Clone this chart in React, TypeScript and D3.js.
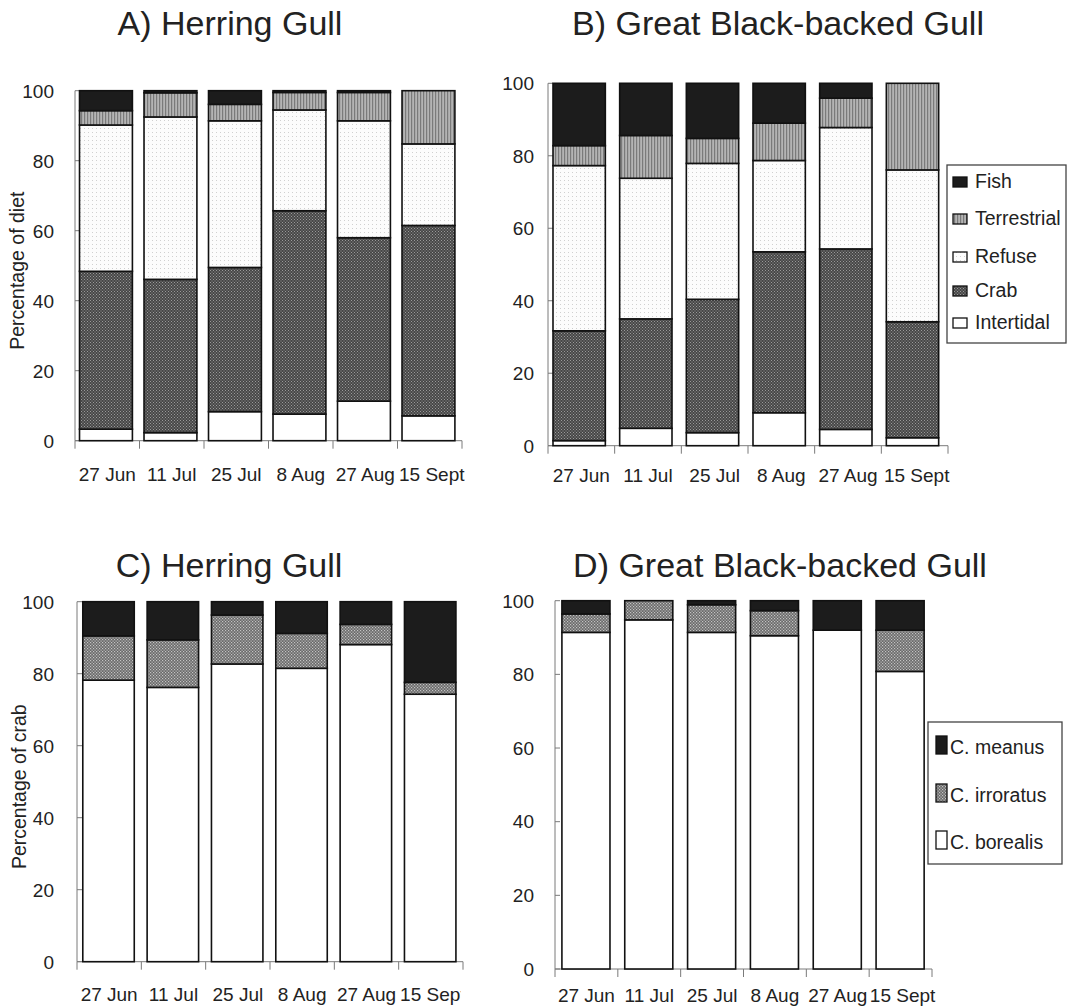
import React from 'react';
import * as d3 from 'd3';

// ---------- data ----------
const dates = ['27 Jun', '11 Jul', '25 Jul', '8 Aug', '27 Aug', '15 Sept'];
const yTicks = [0, 20, 40, 60, 80, 100];

const dietKeys = ['Intertidal', 'Crab', 'Refuse', 'Terrestrial', 'Fish'];
const crabKeys = ['C. borealis', 'C. irroratus', 'C. meanus'];

// A) Herring Gull – percentage of diet (bottom to top)
const hgIntertidal = [3.3, 2.3, 8.3, 7.6, 11.3, 7.1];
const hgCrab = [45.1, 43.8, 41.2, 58.1, 46.7, 54.4];
const hgRefuse = [41.8, 46.4, 41.9, 28.8, 33.4, 23.3];
const hgTerrestrial = [4.1, 6.9, 4.7, 5.0, 8.1, 15.2];
const hgFish = [5.7, 0.6, 3.9, 0.5, 0.5, 0];

// B) Great Black-backed Gull – percentage of diet
const gbIntertidal = [1.4, 4.8, 3.6, 9.1, 4.5, 2.2];
const gbCrab = [30.3, 30.2, 36.8, 44.4, 49.8, 32.0];
const gbRefuse = [45.6, 38.8, 37.5, 25.2, 33.5, 41.9];
const gbTerrestrial = [5.5, 11.8, 6.9, 10.3, 8.1, 23.9];
const gbFish = [17.2, 14.4, 15.2, 11.0, 4.1, 0];

// C) Herring Gull – percentage of crab
const hgBorealis = [78.2, 76.2, 82.7, 81.5, 88.1, 74.3];
const hgIrroratus = [12.3, 13.2, 13.6, 9.7, 5.6, 3.3];
const hgMeanus = [9.5, 10.6, 3.7, 8.8, 6.3, 22.4];

// D) Great Black-backed Gull – percentage of crab
const gbBorealis = [91.4, 94.8, 91.4, 90.5, 92.0, 80.8];
const gbIrroratus = [5.0, 5.2, 7.5, 6.8, 0, 11.2];
const gbMeanus = [3.6, 0, 1.1, 2.7, 8.0, 8.0];

// ---------- styling ----------
const FONT = '"Liberation Sans", Arial, Helvetica, sans-serif';
const TXT = '#222';
const AXIS = '#7a7a7a';

const dietFills: Record<string, string> = {
  Intertidal: '#ffffff',
  Crab: 'url(#pCrab)',
  Refuse: 'url(#pRefuse)',
  Terrestrial: 'url(#pTerr)',
  Fish: '#1c1c1c',
};
const crabFills: Record<string, string> = {
  'C. borealis': '#ffffff',
  'C. irroratus': 'url(#pIrror)',
  'C. meanus': '#1c1c1c',
};

type PanelProps = {
  keys: string[];
  series: number[][];
  fills: Record<string, string>;
  x0: number; x1: number; yTop: number; yBot: number;
  barOff: number; barW: number;
  yLabelX: number; xLabelY: number;
  yTitle?: string; yTitleX?: number;
  clipRight?: number; id: string;
};

function Panel(p: PanelProps) {
  const rows = dates.map((d, i) => {
    const r: any = { date: d };
    p.keys.forEach((k, j) => (r[k] = p.series[j][i]));
    return r;
  });
  const stacked = d3.stack<any>().keys(p.keys)(rows);
  const x = d3.scaleBand<string>().domain(dates).range([p.x0, p.x1]).padding(0);
  const y = d3.scaleLinear().domain([0, 100]).range([p.yBot, p.yTop]);
  const step = x.step();
  const boundaries = d3.range(dates.length + 1).map((i) => p.x0 + i * step);
  const midY = (p.yTop + p.yBot) / 2;
  return (
    <g>
      {p.clipRight !== undefined && (
        <clipPath id={`clip-${p.id}`}>
          <rect x={0} y={p.yBot} width={p.clipRight} height={80} />
        </clipPath>
      )}
      {/* y axis */}
      <line x1={p.x0} x2={p.x0} y1={p.yTop} y2={p.yBot} stroke={AXIS} strokeWidth={1} />
      {yTicks.map((t) => (
        <g key={t}>
          <line x1={p.x0} x2={p.x0 + 5} y1={y(t)} y2={y(t)} stroke={AXIS} strokeWidth={1} />
          <text x={p.yLabelX} y={y(t) + 6.8} textAnchor="end" fontSize={19} fill={TXT} fontFamily={FONT}>
            {t}
          </text>
        </g>
      ))}
      {/* x axis */}
      <line x1={p.x0} x2={p.x1} y1={p.yBot} y2={p.yBot} stroke={AXIS} strokeWidth={1} />
      {boundaries.map((bx, i) => (
        <line key={i} x1={bx} x2={bx} y1={p.yBot} y2={p.yBot + 8} stroke={AXIS} strokeWidth={1} />
      ))}
      <g clipPath={p.clipRight !== undefined ? `url(#clip-${p.id})` : undefined}>
        {dates.map((d, i) => (
          <text key={d} x={(x(d) as number) + step / 2 + (i === dates.length - 1 ? 2 : 0)} y={p.xLabelY}
            textAnchor="middle" fontSize={19} fill={TXT} fontFamily={FONT}>
            {d}
          </text>
        ))}
      </g>
      {/* bars */}
      {stacked.map((s) => (
        <g key={s.key}>
          {s.map((seg, i) => {
            const h = y(seg[0]) - y(seg[1]);
            if (h <= 0.01) return null;
            return (
              <rect key={i}
                x={(x(dates[i]) as number) + step * p.barOff}
                width={step * p.barW}
                y={y(seg[1])}
                height={h}
                fill={p.fills[s.key]}
                stroke="#111" strokeWidth={1.6} />
            );
          })}
        </g>
      ))}
      {p.yTitle && (
        <text transform={`translate(${p.yTitleX},${midY + 5}) rotate(-90)`} textAnchor="middle"
          fontSize={19.5} fill={TXT} fontFamily={FONT}>
          {p.yTitle}
        </text>
      )}
    </g>
  );
}

function Legend({ items, fills, x, y, w, h, rows, tall }: {
  items: string[]; fills: Record<string, string>; x: number; y: number; w: number; h: number;
  rows: number[]; tall?: boolean;
}) {
  return (
    <g>
      <rect x={x} y={y} width={w} height={h} fill="#fff" stroke="#444" strokeWidth={1.3} />
      {items.map((it, i) => (
        <g key={it}>
          {tall ? (
            <rect x={x + 8} y={rows[i] - 18} width={11} height={18} fill={fills[it]} stroke="#111" strokeWidth={1.3} />
          ) : (
            <rect x={x + 6} y={rows[i] - 11} width={14} height={10} fill={fills[it]} stroke="#111" strokeWidth={1.3} />
          )}
          <text x={tall ? x + 22 : x + 28} y={rows[i]} fontSize={19.5} fill={TXT} fontFamily={FONT}>
            {it}
          </text>
        </g>
      ))}
    </g>
  );
}

export default function App() {
  const W = 1073, H = 1008;
  const dietLegendItems = [...dietKeys].reverse();
  const crabLegendItems = [...crabKeys].reverse();
  return (
    <div style={{ position: 'absolute', left: 0, top: 0 }}>
      <svg width={W} height={H} viewBox={`0 0 ${W} ${H}`} style={{ display: 'block', background: '#fff' }}>
        <defs>
          <pattern id="pCrab" width={3} height={3} patternUnits="userSpaceOnUse">
            <rect width={3} height={3} fill="#474747" />
            <rect x={0} y={0} width={1} height={1} fill="#9a9a9a" />
            <rect x={1.5} y={1.5} width={1} height={1} fill="#9a9a9a" />
          </pattern>
          <pattern id="pIrror" width={3} height={3} patternUnits="userSpaceOnUse">
            <rect width={3} height={3} fill="#6a6a6a" />
            <rect x={0} y={0} width={1.2} height={1.2} fill="#c4c4c4" />
            <rect x={1.5} y={1.5} width={1.2} height={1.2} fill="#c4c4c4" />
          </pattern>
          <pattern id="pTerr" width={3} height={4} patternUnits="userSpaceOnUse">
            <rect width={3} height={4} fill="#b4b4b4" />
            <rect x={0} y={0} width={1.2} height={4} fill="#7a7a7a" />
          </pattern>
          <pattern id="pRefuse" width={4} height={4} patternUnits="userSpaceOnUse">
            <rect width={4} height={4} fill="#fcfcfc" />
            <rect x={0} y={0} width={1} height={1} fill="#d0d0d0" />
          </pattern>
        </defs>

        {/* Titles */}
        <text x={230} y={35} textAnchor="middle" fontSize={34} fill={TXT} fontFamily={FONT}>A) Herring Gull</text>
        <text x={778} y={35} textAnchor="middle" fontSize={34} fill={TXT} fontFamily={FONT}>B) Great Black-backed Gull</text>
        <text x={229} y={577} textAnchor="middle" fontSize={34} fill={TXT} fontFamily={FONT}>C) Herring Gull</text>
        <text x={780} y={577} textAnchor="middle" fontSize={34} fill={TXT} fontFamily={FONT}>D) Great Black-backed Gull</text>

        <Panel id="A" keys={dietKeys} series={[hgIntertidal, hgCrab, hgRefuse, hgTerrestrial, hgFish]}
          fills={dietFills} x0={75} x1={462} yTop={90.7} yBot={440.7} barOff={0.07} barW={0.82}
          yLabelX={54} xLabelY={481} yTitle="Percentage of diet" yTitleX={24} />
        <Panel id="B" keys={dietKeys} series={[gbIntertidal, gbCrab, gbRefuse, gbTerrestrial, gbFish]}
          fills={dietFills} x0={548} x1={948} yTop={83.3} yBot={445.7} barOff={0.075} barW={0.785}
          yLabelX={534} xLabelY={482} />
        <Panel id="C" keys={crabKeys} series={[hgBorealis, hgIrroratus, hgMeanus]}
          fills={crabFills} x0={77} x1={463} yTop={601.7} yBot={961.7} barOff={0.09} barW={0.8}
          yLabelX={54} xLabelY={1001} yTitle="Percentage of crab" yTitleX={26} clipRight={460.5} />
        <Panel id="D" keys={crabKeys} series={[gbBorealis, gbIrroratus, gbMeanus]}
          fills={crabFills} x0={555} x1={932} yTop={600.7} yBot={969} barOff={0.11} barW={0.765}
          yLabelX={534} xLabelY={1002} />

        <Legend items={dietLegendItems} fills={dietFills} x={947} y={165} w={119} h={178}
          rows={[188, 225, 263, 297, 329]} />
        <Legend items={crabLegendItems} fills={crabFills} x={928} y={722} w={134} h={142}
          rows={[754, 802, 849]} tall />
      </svg>
    </div>
  );
}
